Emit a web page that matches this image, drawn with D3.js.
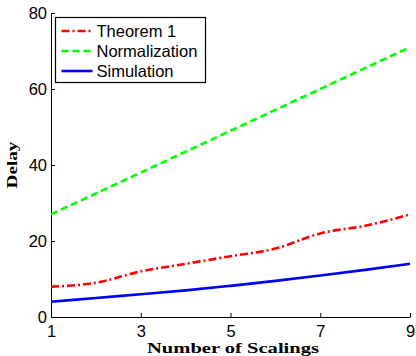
<!DOCTYPE html>
<html>
<head>
<meta charset="utf-8">
<script src="https://cdn.jsdelivr.net/npm/d3@7"></script>
<style>
  body { margin: 0; background: #fff; }
  svg { display: block; }
</style>
</head>
<body>
<div id="chart"></div>
<script>
// data
var scalings = [1, 2, 3, 4, 5, 6, 7, 8, 9];
var theorem1 = [8, 9, 12, 14, 16, 18, 22, 24, 27];
var normalization = [27, 32.5, 38, 43.5, 49, 54.5, 60, 65.5, 71];
var simulation = [4, 5, 6, 7, 8.2, 9.5, 10.9, 12.4, 14];
var xTicks = [1, 3, 5, 7, 9];
var yTicks = [0, 20, 40, 60, 80];

var width = 416, height = 356;
var margin = {top: 13, right: 6, bottom: 39, left: 51};

var svg = d3.select("#chart").append("svg")
  .attr("width", width)
  .attr("height", height);

var x = d3.scaleLinear().domain([1, 9]).range([margin.left, width - margin.right]);
var y = d3.scaleLinear().domain([0, 80]).range([height - margin.bottom, margin.top]);

// axes, ticks point inward like matlab
var xAxis = svg.append("g")
  .attr("transform", "translate(0," + y(0) + ")")
  .call(d3.axisBottom(x).tickValues(xTicks).tickSizeInner(-4).tickSizeOuter(0).tickPadding(8));
var yAxis = svg.append("g")
  .attr("transform", "translate(" + x(1) + ",0)")
  .call(d3.axisLeft(y).tickValues(yTicks).tickSizeInner(-4).tickSizeOuter(0).tickPadding(4));

[xAxis, yAxis].forEach(function(ax){
  ax.select(".domain").attr("stroke", "#000").attr("stroke-width", 1);
  ax.selectAll(".tick line").attr("stroke", "#000");
  ax.selectAll("text")
    .attr("fill", "#000")
    .style("font-family", "'Liberation Sans', Arial, sans-serif")
    .style("font-size", "16.5px");
});

var series = [
  {name: "Theorem 1", values: theorem1, color: "#ff0000", dash: "8,3,2,3"},
  {name: "Normalization", values: normalization, color: "#00ff00", dash: "7,4"},
  {name: "Simulation", values: simulation, color: "#0000ff", dash: null}
];

var line = d3.line()
  .x(function(d, i){ return x(scalings[i]) })
  .y(function(d){ return y(d) })
  .curve(d3.curveMonotoneX);

series.forEach(function(s){
  svg.append("path")
    .datum(s.values)
    .attr("d", line)
    .attr("fill", "none")
    .attr("stroke", s.color)
    .attr("stroke-width", 2.6)
    .attr("stroke-dasharray", s.dash);
});

// axis labels (stretched a bit to look like the latex bold font)
svg.append("text")
  .attr("x", 233)
  .attr("y", 353)
  .attr("text-anchor", "middle")
  .attr("textLength", 172)
  .attr("lengthAdjust", "spacingAndGlyphs")
  .style("font-family", "'Liberation Serif', 'Times New Roman', serif")
  .style("font-weight", "bold")
  .style("font-size", "14px")
  .text("Number of Scalings");

svg.append("text")
  .attr("transform", "translate(17,165) rotate(-90)")
  .attr("text-anchor", "middle")
  .attr("textLength", 47)
  .attr("lengthAdjust", "spacingAndGlyphs")
  .style("font-family", "'Liberation Serif', 'Times New Roman', serif")
  .style("font-weight", "bold")
  .style("font-size", "15px")
  .text("Delay");

// legend
var legend = svg.append("g").attr("transform", "translate(55.5,17.5)");
legend.append("rect")
  .attr("width", 150)
  .attr("height", 65)
  .attr("fill", "#fff")
  .attr("stroke", "#000")
  .attr("stroke-width", 1.2);

series.forEach(function(s, i){
  var ly = 13.5 + i * 20;
  legend.append("line")
    .attr("x1", 6).attr("x2", 37)
    .attr("y1", ly).attr("y2", ly)
    .attr("stroke", s.color)
    .attr("stroke-width", 2.6)
    .attr("stroke-dasharray", s.dash);
  legend.append("text")
    .attr("x", 41)
    .attr("y", ly + 5.5)
    .style("font-family", "'Liberation Sans', Arial, sans-serif")
    .style("font-size", "16.5px")
    .text(s.name);
});
</script>
</body>
</html>
